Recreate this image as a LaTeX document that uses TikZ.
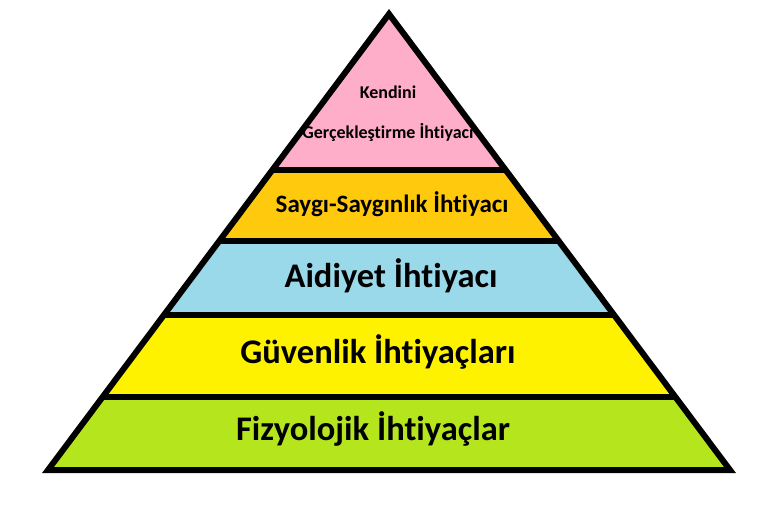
\documentclass[tikz,border=0pt]{standalone}
\usepackage{fontspec}
\setmainfont{Carlito}[Ligatures={NoCommon},Contextuals={NoAlternate}]
\usepackage{tikz}
\definecolor{pinkP}{RGB}{255,174,201}
\definecolor{goldP}{RGB}{255,201,14}
\definecolor{blueP}{RGB}{153,217,234}
\definecolor{yellowP}{RGB}{255,242,0}
\definecolor{limeP}{RGB}{181,230,29}

\begin{document}
\begin{tikzpicture}[x=1pt,y=-1pt,
        bigtext/.style={font=\bfseries\fontsize{34.5}{40}\selectfont,anchor=base,inner sep=0pt},
        midtext/.style={font=\bfseries\fontsize{25}{30}\selectfont,anchor=base,inner sep=0pt},
        smalltext/.style={font=\bfseries\fontsize{18}{22}\selectfont,anchor=base,inner sep=0pt}]
            \useasboundingbox (0,0) rectangle (780,520);
            \coordinate (apex) at (389,14);
            \coordinate (bl) at (48,470);
            \coordinate (br) at (730,470);
            \begin{scope}
                \clip (apex) -- (bl) -- (br) -- cycle;
                \foreach \ytop/\ybot/\col in {0/170/pinkP,170/241/goldP,241/315/blueP,315/397/yellowP,397/480/limeP}
                    \fill[\col] (0,\ytop) rectangle (780,\ybot);
                \foreach \y in {170,241,315,397}
                    \draw[line width=5.5pt] (0,\y) -- (780,\y);
            \end{scope}
            \draw[line width=6pt] (apex) -- (bl) -- (br) -- cycle;
            \node[smalltext] (kendini) at (388,98) {Kendini};
            \node[smalltext] (gercek) at (388,138) {Gerçekleştirme İhtiyacı};
            \node[midtext] (saygi) at (392,212) {Saygı-Saygınlık İhtiyacı};
            \node[bigtext] (aidiyet) at (391,287) {Aidiyet İhtiyacı};
            \node[bigtext] (guvenlik) at (378,363) {Güvenlik İhtiyaçları};
            \node[bigtext] (fizyo) at (373,440) {Fizyolojik İhtiyaçlar};
        \end{tikzpicture}
\end{document}
